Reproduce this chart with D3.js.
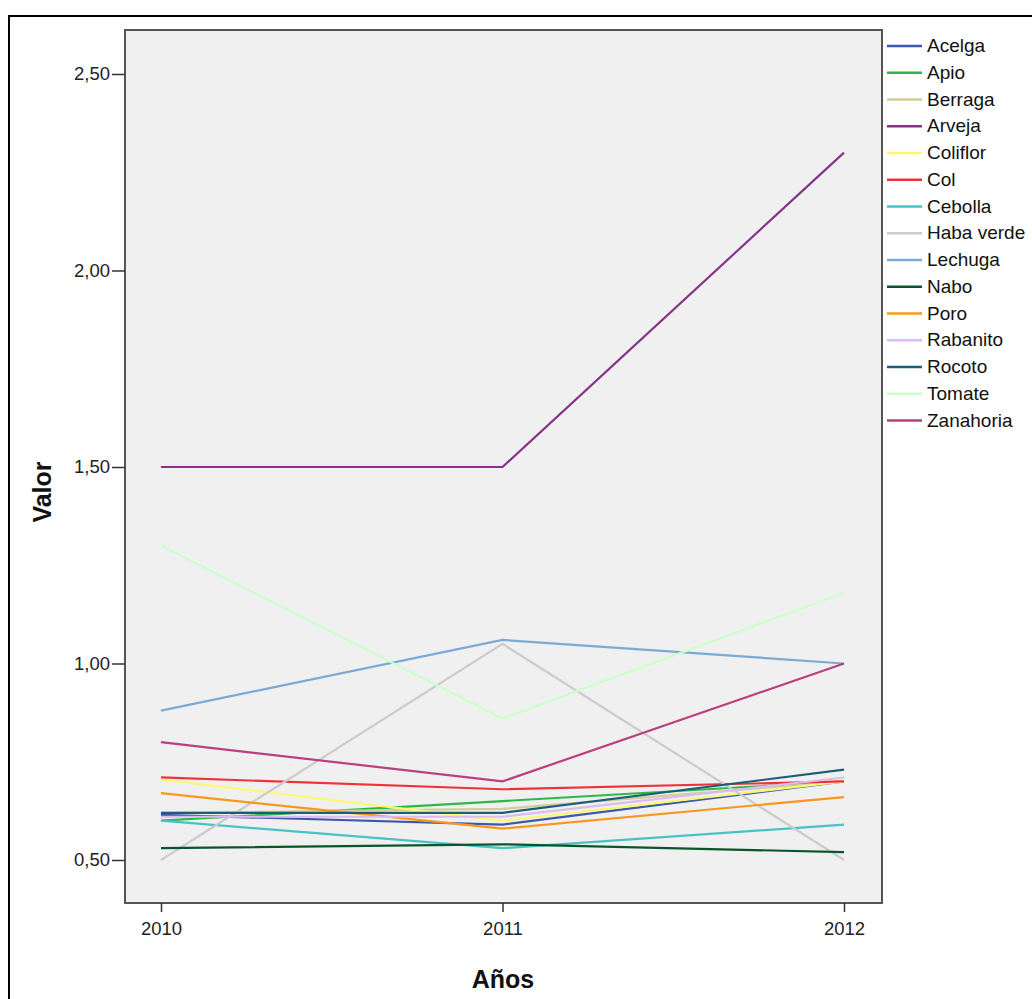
<!DOCTYPE html>
<html><head><meta charset="utf-8">
<script src="https://cdn.jsdelivr.net/npm/d3@7"></script>
<style>body{margin:0;background:#fff}svg{display:block}text{font-family:Arial,"Liberation Sans",sans-serif}</style>
</head><body><svg id="c" width="1032" height="999"></svg>
<script>
const years = [2010, 2011, 2012];
const seriesNames = ["Acelga","Apio","Berraga","Arveja","Coliflor","Col","Cebolla","Haba verde","Lechuga","Nabo","Poro","Rabanito","Rocoto","Tomate","Zanahoria"];
const seriesColors = ["#3E58AC","#2EB848","#D3CE97","#86348A","#FBF873","#EF3338","#48C2C5","#CCCCCC","#7AAAD5","#0A562C","#F8981D","#DDBAF1","#1A5F76","#CCFFCC","#BB3F7F"];
const Acelga = [0.615, 0.59, 0.70];
const Apio = [0.60, 0.65, 0.70];
const Berraga = [0.62, 0.63, 0.70];
const Arveja = [1.50, 1.50, 2.30];
const Coliflor = [0.705, 0.60, 0.70];
const Col = [0.71, 0.68, 0.70];
const Cebolla = [0.60, 0.53, 0.59];
const HabaVerde = [0.50, 1.05, 0.50];
const Lechuga = [0.88, 1.06, 1.00];
const Nabo = [0.53, 0.54, 0.52];
const Poro = [0.67, 0.58, 0.66];
const Rabanito = [0.61, 0.61, 0.71];
const Rocoto = [0.62, 0.62, 0.73];
const Tomate = [1.30, 0.86, 1.18];
const Zanahoria = [0.80, 0.70, 1.00];
const seriesValues = [Acelga, Apio, Berraga, Arveja, Coliflor, Col, Cebolla, HabaVerde, Lechuga, Nabo, Poro, Rabanito, Rocoto, Tomate, Zanahoria];
const yTicks = [0.5, 1.0, 1.5, 2.0, 2.5];
const yTickLabels = ["0,50","1,00","1,50","2,00","2,50"];

const svg = d3.select("#c");
svg.append("rect").attr("x",9).attr("y",16).attr("width",1040).attr("height",1000)
  .attr("fill","none").attr("stroke","#000").attr("stroke-width",2);

const P = {l:125, t:30, r:882, b:903};
svg.append("rect").attr("x",P.l).attr("y",P.t).attr("width",P.r-P.l).attr("height",P.b-P.t)
  .attr("fill","#F0F0F0").attr("stroke","#555").attr("stroke-width",2);

const x = d3.scalePoint().domain(years).range([161, 844]);
const y = d3.scaleLinear().domain([0.5, 2.5]).range([860, 74]);

const yAxis = svg.append("g").attr("transform",`translate(${P.l},0)`)
  .call(d3.axisLeft(y).tickValues(yTicks).tickFormat((d,i)=>yTickLabels[i]).tickSize(13).tickPadding(2));
yAxis.select(".domain").remove();
yAxis.selectAll(".tick line").attr("stroke","#333").attr("stroke-width",1.5);
yAxis.selectAll(".tick text").attr("font-size","18.5px").attr("fill","#222");

const xAxis = svg.append("g").attr("transform",`translate(0,${P.b})`)
  .call(d3.axisBottom(x).tickSize(9).tickPadding(10));
xAxis.select(".domain").remove();
xAxis.selectAll(".tick line").attr("stroke","#333").attr("stroke-width",1.5);
xAxis.selectAll(".tick text").attr("font-size","18.5px").attr("fill","#222");

const line = d3.line().x((d,i)=>x(years[i])).y(d=>y(d));
svg.append("g").selectAll("path").data(seriesValues).join("path")
  .attr("d", line).attr("fill","none")
  .attr("stroke",(d,i)=>seriesColors[i]).attr("stroke-width",2.2);

const lg = svg.append("g");
seriesNames.forEach((n,i)=>{
  const yy = 46 + i*26.75;
  lg.append("line").attr("x1",887).attr("x2",922).attr("y1",yy).attr("y2",yy)
    .attr("stroke",seriesColors[i]).attr("stroke-width",2.5);
  lg.append("text").attr("x",927).attr("y",yy+6).attr("font-size","19px").attr("fill","#111").text(n);
});

svg.append("text").attr("transform","translate(51,492) rotate(-90)").attr("text-anchor","middle")
  .attr("font-size","25px").attr("font-weight","bold").attr("fill","#111").text("Valor");
svg.append("text").attr("x",503).attr("y",988).attr("text-anchor","middle")
  .attr("font-size","25px").attr("font-weight","bold").attr("fill","#111").text("Años");
</script></body></html>
